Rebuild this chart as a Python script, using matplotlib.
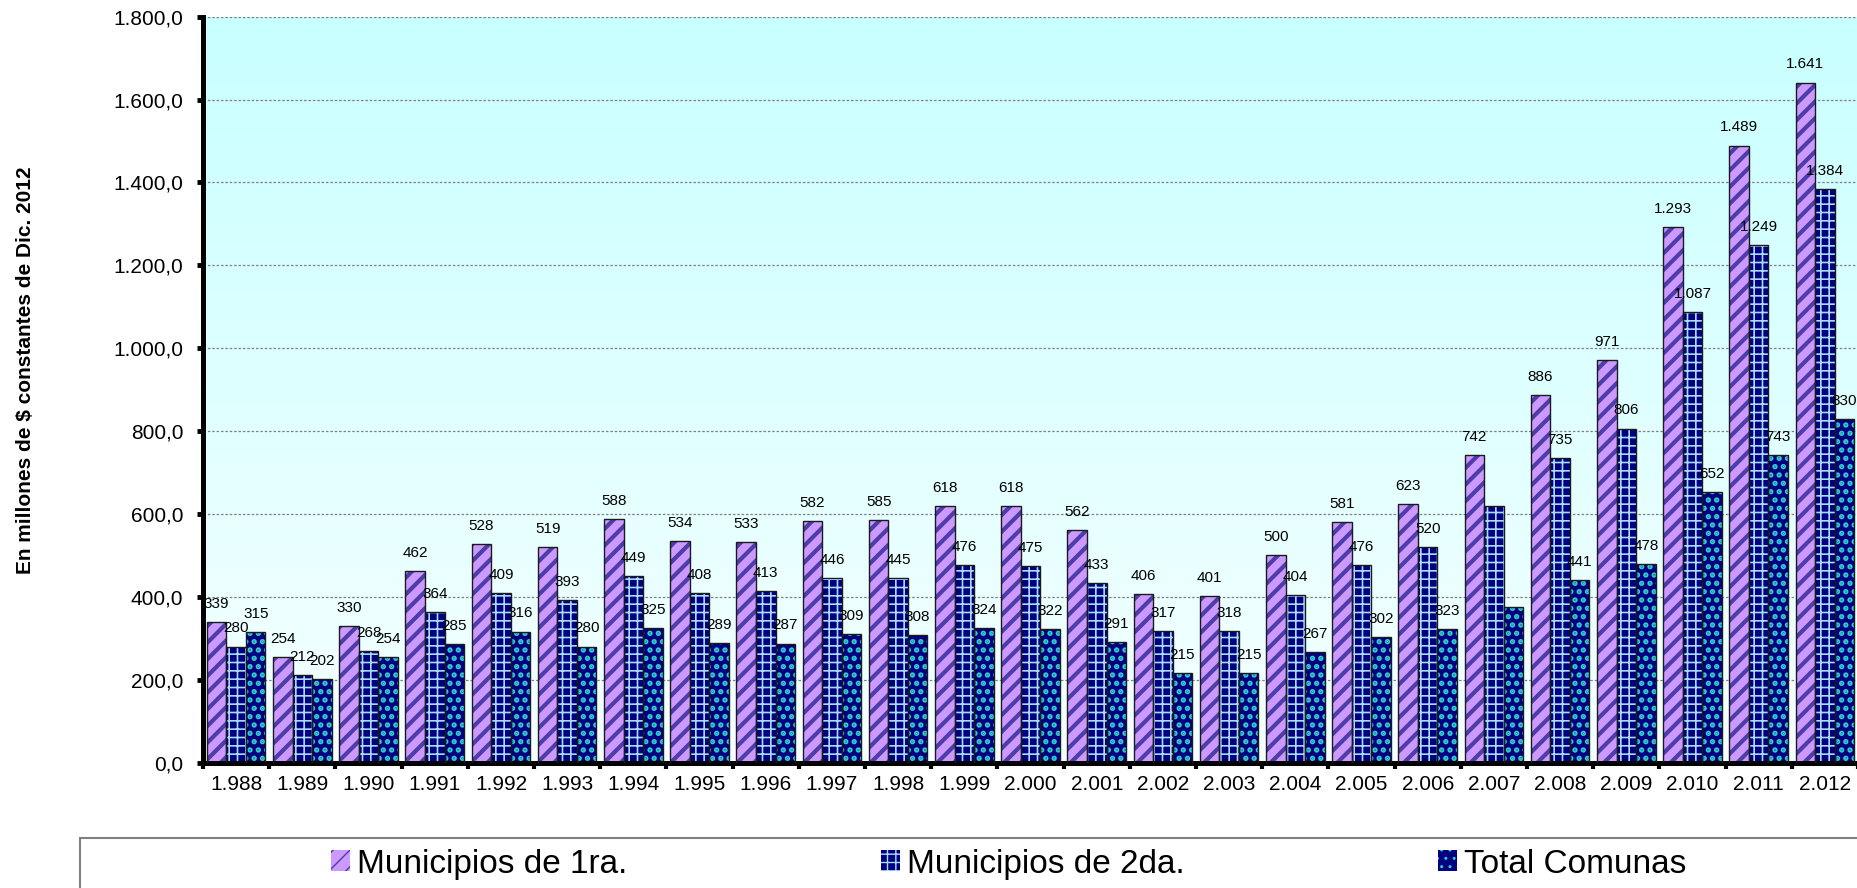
import numpy as np
import matplotlib
matplotlib.use("Agg")
import matplotlib.pyplot as plt
from matplotlib.colors import LinearSegmentedColormap
from matplotlib.patches import Rectangle
from matplotlib.ticker import FuncFormatter

# --- data (millones de $ constantes de Dic. 2012) ---
years = list(range(1988, 2013))
year_labels = [f"{y // 1000}.{y % 1000:03d}" for y in years]
muni_1ra = [339, 254, 330, 462, 528, 519, 588, 534, 533, 582, 585, 618, 618,
            562, 406, 401, 500, 581, 623, 742, 886, 971, 1293, 1489, 1641]
muni_2da = [280, 212, 268, 364, 409, 393, 449, 408, 413, 446, 445, 476, 475,
            433, 317, 318, 404, 476, 520, 618, 735, 806, 1087, 1249, 1384]
total_comunas = [315, 202, 254, 285, 316, 280, 325, 289, 287, 309, 308, 324, 322,
                 291, 215, 215, 267, 302, 323, 376, 441, 478, 652, 743, 830]
series_names = ["Municipios de 1ra.", "Municipios de 2da.", "Total Comunas"]
# labels the original chart does not show
unlabeled = {(1, 2007), (2, 2007)}

plt.rcParams["font.family"] = ["Liberation Sans", "DejaVu Sans"]

styles = [
    dict(face="#cc99ff", hatch="//", hcolor="#4e3ca8", hlw=3.0),
    dict(face="#000080", hatch="++", hcolor="#a8dcff", hlw=1.2),
    dict(face="#000080", hatch="..", hcolor="#33cccc", hlw=2.6),
]

fig = plt.figure(figsize=(18.58, 8.88), dpi=100)
ax = fig.add_axes([0.1093, 0.1413, 0.8907, 0.8399])

# gradient plot background
bg = LinearSegmentedColormap.from_list("bg", ["#f6ffff", "#c8ffff"])
ax.imshow(np.linspace(0, 1, 256).reshape(-1, 1), cmap=bg, origin="lower",
          extent=[0, 1, 0, 1], transform=ax.transAxes, aspect="auto", zorder=0)

x = np.arange(len(years))
width = 0.295
handles = []
for k, (vals, st) in enumerate(zip([muni_1ra, muni_2da, total_comunas], styles)):
    pos = x + (k - 1) * width
    with plt.rc_context({"hatch.linewidth": st["hlw"]}):
        bars = ax.bar(pos, vals, width, facecolor=st["face"], edgecolor=st["hcolor"],
                      hatch=st["hatch"], linewidth=0, zorder=2)
    for b in bars:
        if hasattr(b, "set_hatch_linewidth"):
            b.set_hatch_linewidth(st["hlw"])
    handles.append(bars)
    ax.bar(pos, vals, width, facecolor="none", edgecolor="#1a1a1a", linewidth=1.0, zorder=3)
    for p, v, yr in zip(pos, vals, years):
        if (k, yr) in unlabeled:
            continue
        ax.annotate(f"{v:,}".replace(",", "."), (p, v), xytext=(0, 8),
                    textcoords="offset points", ha="center", va="bottom", fontsize=11, zorder=4)

ax.set_xlim(-0.5, len(years) - 0.5)
ax.set_ylim(0, 1800)
ax.set_yticks(np.arange(0, 1801, 200))
ax.yaxis.set_major_formatter(FuncFormatter(
    lambda v, p: f"{v:,.1f}".replace(",", "X").replace(".", ",").replace("X", ".")))
ax.tick_params(axis="y", length=4.3, width=3.5, pad=10, labelsize=15)

ax.set_xticks(np.arange(-0.5, len(years), 1), labels=[])
ax.set_xticks(x, labels=year_labels, minor=True)
ax.tick_params(axis="x", which="major", length=4, width=3)
ax.tick_params(axis="x", which="minor", length=0, pad=9, labelsize=15)

ax.set_axisbelow(True)
ax.yaxis.grid(True, color="#808080", linestyle=(0, (2, 1.5)), linewidth=0.9)
for side in ("top", "right"):
    ax.spines[side].set_visible(False)
for side in ("left", "bottom"):
    ax.spines[side].set_linewidth(3.6)
    ax.spines[side].set_color("black")

fig.text(26 / 1858, (888 - 370) / 888, "En millones de $ constantes de Dic. 2012",
         rotation=90, ha="center", va="center", fontsize=15, fontweight="bold")

# legend box (runs off the figure at right and bottom)
fig.add_artist(Rectangle((80 / 1858, -0.05), 1.0, 0.05 + (888 - 838) / 888,
                         transform=fig.transFigure, fill=False,
                         edgecolor="#808080", linewidth=1.5))
fig.legend(handles, series_names, loc="center left",
           bbox_to_anchor=(331 / 1858, (888 - 864) / 888), ncol=3, frameon=False,
           fontsize=24, handlelength=0.58, handleheight=0.58, handletextpad=0.2,
           columnspacing=7.6, borderpad=0, borderaxespad=0)

fig.savefig("out.png", dpi=100)
